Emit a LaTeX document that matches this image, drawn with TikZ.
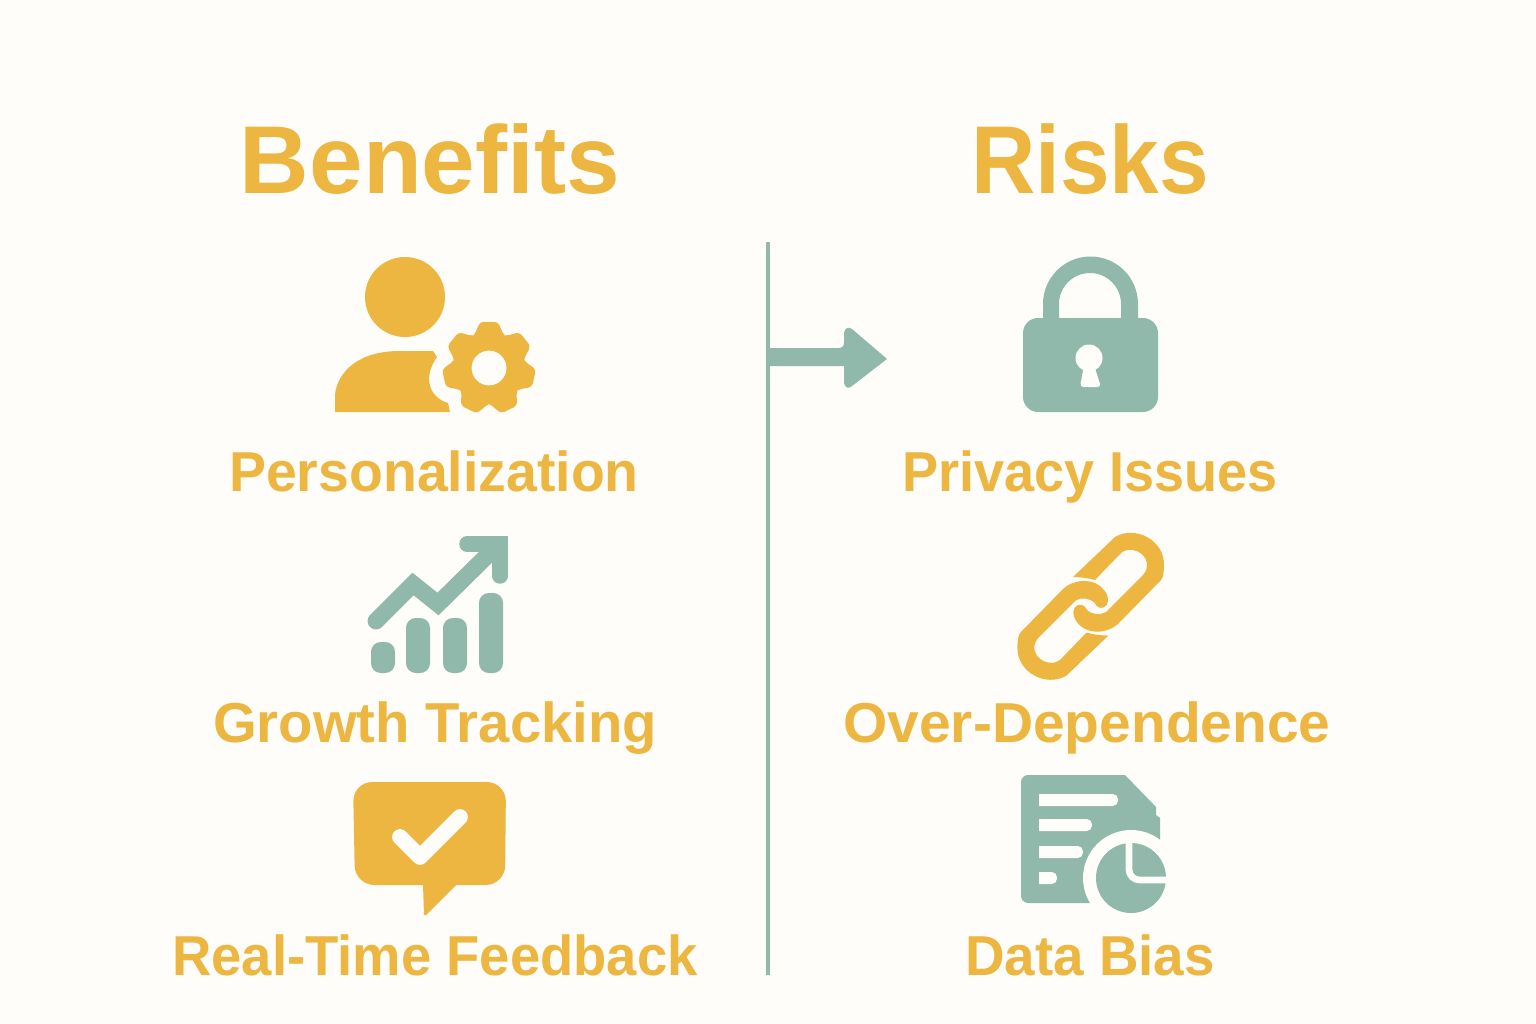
\documentclass[tikz,border=0pt]{standalone}
\usepackage{fontspec}
\setmainfont{Liberation Sans}
\definecolor{pagebg}{HTML}{FEFDF9}
\definecolor{amber}{HTML}{ECB640}
\definecolor{sage}{HTML}{90B8AB}
\tikzset{
  heading/.style={text=amber,anchor=base,font=\fontsize{27.4}{32}\selectfont\bfseries},
  caption/.style={text=amber,anchor=base,font=\fontsize{16}{20}\selectfont\bfseries},
  squeezed/.style={xscale=#1,transform shape},
}

\begin{document}
\begin{tikzpicture}[x=0.01cm,y=-0.01cm]
      \fill[pagebg] (0,0) rectangle (1536,1024);
      \useasboundingbox (0,0) rectangle (1536,1024);

      \node[heading] (benefits) at (430,193) {Benefits};
      \node[heading,squeezed=0.925] (risks) at (1090,193) {Risks};
      \node[caption,squeezed=0.985] (personalization) at (434,491) {Personalization};
      \node[caption] (growth) at (435,742) {Growth Tracking};
      \node[caption,squeezed=0.967] (feedback) at (435,975) {Real-Time Feedback};
      \node[caption,squeezed=0.96] (privacy) at (1090,491) {Privacy Issues};
      \node[caption,squeezed=1.012] (dependence) at (1087,742) {Over-Dependence};
      \node[caption,squeezed=0.973] (bias) at (1090,975) {Data Bias};

      % divider and its arrow
      \coordinate (divtop) at (768,242);
      \coordinate (divbottom) at (768,975);
      \draw[sage,line width=1.1pt] (divtop) -- (divbottom);
      \fill[sage] (769,348) -- (838,348) .. controls (843,348) and (844,346) .. (844,342)
        -- (844,333) .. controls (845,327) and (849,327) .. (852,329) -- (887,359) -- (852,386)
        .. controls (849,389) and (845,388) .. (844,383) -- (844,366) -- (769,366) -- cycle;

      % person with gear
      \fill[amber] (405,297) circle (40);
      \fill[amber] (335,412) -- (335,397) .. controls (335,380) and (350,351) .. (400,351)
        -- (433,351) -- (437,357) .. controls (422,378) and (430,398) .. (448,403) -- (450,412) -- cycle;
      \fill[amber,even odd rule,shift={(489,368)},rounded corners=1pt] (-116:36)
        \foreach \a in {-90,-38.57,...,220} { -- ({\a-24}:36) -- ({\a-11}:47) -- ({\a+11}:47) -- ({\a+24}:36) }
        -- cycle (0,0) circle (17.5);

      % chart
      \draw[sage,line width=4.8pt,line cap=round,line join=miter] (376,621) -- (413,584) -- (438,604) -- (498,545);
      \draw[sage,line width=4.4pt,line cap=round,line join=miter] (467,544) -- (500,544) -- (500,576);
      \foreach \left/\top in {371/642,406/618,443/618,479/593}
        \fill[sage,rounded corners=2.8pt] (\left,\top) rectangle ({\left+24},673);

      % speech bubble
      \fill[amber,rounded corners=5.5pt] (353,782) -- (506,782) -- (505,885) -- (355,885) -- cycle;
      \fill[amber] (423,884) -- (424,915) -- (426,915) -- (457,884) -- cycle;
      \draw[pagebg,line width=4.5pt,line cap=round,line join=round] (400,837) -- (420,857) -- (460,817);

      % padlock
      \fill[sage,even odd rule] (1043,320) -- (1043,304) arc(180:360:47.5) -- (1138,320) -- (1121,320)
        -- (1121,304) arc(360:180:31) -- (1059,320) -- cycle;
      \fill[sage,rounded corners=4.3pt] (1023,318) rectangle (1158,412);
      \fill[pagebg] (1089,358) circle (13.5);
      \fill[pagebg,rounded corners=1pt] (1084,365) -- (1094,365) -- (1101,387) -- (1080,387) -- cycle;

      % chain link, second one is the same turned half way round
      \foreach \r in {0,180}
        \fill[amber,rotate around={\r:(1090.7,606.3)}] (1073,577) -- (1115,537)
          .. controls (1135,525) and (1165,540) .. (1164,566)
          .. controls (1164,572) and (1163,578) .. (1161,580) -- (1118,624)
          .. controls (1105,635) and (1085,634) .. (1077,622)
          .. controls (1072,616) and (1072,607) .. (1078,605)
          .. controls (1082,604) and (1085,606) .. (1087,610)
          .. controls (1091,614) and (1100,616) .. (1106,612) -- (1143,575)
          .. controls (1152,565) and (1145,552) .. (1133,550)
          .. controls (1127,549) and (1123,551) .. (1120,554) -- (1095,580)
          .. controls (1088,578) and (1080,577) .. (1073,577) -- cycle;

      % document with pie
      \fill[sage] (1021,781) [rounded corners=2pt] -- (1021,775) [sharp corners] -- (1125,775) -- (1156,807)
        -- (1156,815) -- (1160,818) -- (1160,903) [rounded corners=2pt] -- (1021,903) [sharp corners] -- cycle;
      \foreach \top/\right in {794/1118,819/1092,846/1083,872/1057}
        \fill[pagebg] (1039,\top) [rounded corners=1.5pt] -- (\right,\top) -- (\right,{\top+12}) [sharp corners]
          -- (1039,{\top+12}) -- cycle;
      \fill[pagebg] (1131,878) circle (48);
      \fill[sage] (1131,878) circle (35);
      \draw[pagebg,line width=1.9pt,rounded corners=3pt] (1129,838) -- (1129,880) -- (1170,880);
\end{tikzpicture}
\end{document}
